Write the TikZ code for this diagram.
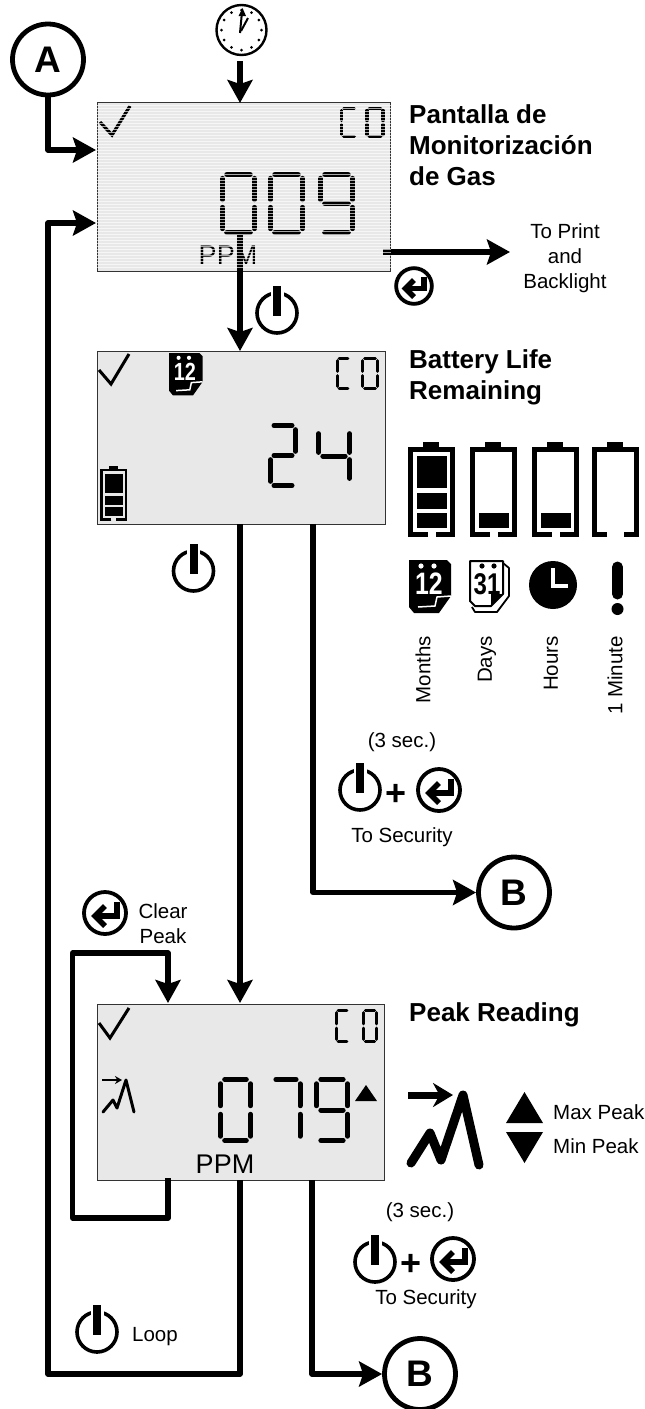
\documentclass[tikz,border=0pt]{standalone}
\usepackage{fontspec}
\setmainfont{Liberation Sans}
\usetikzlibrary{calc,arrows.meta}
\def\sega{(.14,0) -- (.86,0)}
\def\segb{(1,.07) -- (1,.43)}
\def\segc{(1,.57) -- (1,.93)}
\def\segd{(.14,1) -- (.86,1)}
\def\sege{(0,.57) -- (0,.93)}
\def\segf{(0,.07) -- (0,.43)}
\def\segg{(.14,.5) -- (.86,.5)}
\def\lcddigit(#1,#2)(#3,#4)(#5)#6{\begin{scope}[shift={(#1,#2)},x=#3pt,y=-#4pt,line width=#5pt,line cap=round]\foreach \s in {#6}{\draw \csname seg\s\endcsname;}\end{scope}}
\def\battframe(#1,#2)(#3)(#4)(#5)#6{\begin{scope}[shift={(#1,#2)},scale=#3]
	\fill (15,0) rectangle (31,6);
	\draw[line width=#4pt] ({23.5-#5},92.6) -- (2.3,92.6) -- (2.3,7.3) -- (44.7,7.3) -- (44.7,92.6) -- ({23.5+#5},92.6);
	\foreach \ya/\yb in {#6}{\fill (9,\ya) rectangle (39,\yb);}
\end{scope}}
\tikzset{
	lcdscreen/.style={draw=black!80, line width=0.9pt, fill=black!9, inner sep=0pt, outer sep=0pt},
	lcdstripe/.style={white, opacity=0.65, line width=1.1pt},
	flowline/.style={line width=5.3pt, line join=round},
	flowarrow/.style={flowline, -{Stealth[length=23pt,width=25pt,inset=4pt]}},
	flagnode/.style={circle, draw, line width=4.8pt, minimum size=71pt, inner sep=0pt, font=\bfseries\fontsize{37}{37}\selectfont},
	notetext/.style={inner sep=0pt, align=center, font=\fontsize{20.5}{25}\selectfont},
	titletext/.style={inner sep=0pt, anchor=west, align=left, font=\bfseries\fontsize{26}{31}\selectfont},
	ppmtext/.style={inner sep=0pt, font=\fontsize{27}{27}\selectfont},
	powericon/.pic={
		\draw[line width=3.6pt] (0,0) circle (20);
		\fill[white] (-6.5,-24) rectangle (6.5,-15);
		\fill (-4,-27) rectangle (4,3);
	},
	entericon/.pic={
		\draw[line width=3.8pt] (0,0) circle (21);
		\draw[line width=5.5pt] (12,-11) -- (12,3) -- (-9,3);
		\draw[line width=5.5pt] (0,-7) -- (-10,3) -- (0,13);
	},
	monthicon/.pic={
		\fill (0,0) -- (38,0) -- (42,4) -- (42,36) -- (30,53) -- (5,53) -- (0,47) -- cycle;
		\fill[white] (12,6) circle (2.6) (25,6) circle (2.6);
		\draw[white, line width=1.5pt] (42,36) -- (28,37) -- (26,46) -- (9,47);
		\node[white, inner sep=0pt, transform shape, xscale=.8, font=\bfseries\fontsize{31}{31}\selectfont] at (20,24) {12};
	},
}
\begin{document}
\begin{tikzpicture}[x=1pt,y=-1pt]
	\useasboundingbox (0,0) rectangle (645,1409);

	\node[lcdscreen, minimum width=293pt, minimum height=169pt] (lcdgas) at (243.5,187) {};
	\node[lcdscreen, minimum width=288pt, minimum height=173pt] (lcdbat) at (241,437.5) {};
	\node[lcdscreen, minimum width=287pt, minimum height=176pt] (lcdpeak) at (240.5,1092) {};

	\node[flagnode] (flaga) at (48,59.5) {A};
	\node[flagnode] (flagb) at (514,892.5) {B};
	\node[flagnode] (flagc) at (420,1374) {B};
	\node[circle, draw, line width=2.4pt, minimum size=50pt, inner sep=0pt] (clock) at (241.5,30) {};

	\coordinate (gastop) at (240,103);
	\coordinate (gasinner) at (240,232);
	\coordinate (gasleft) at (96,150);
	\coordinate (gasloop) at (96,223);
	\coordinate (gasprint) at (383,252);
	\coordinate (printend) at (510,252);
	\coordinate (battop) at (240,351);
	\coordinate (batdown) at (240,524);
	\coordinate (batsec) at (313,524);
	\coordinate (peaktop) at (240,1003);
	\coordinate (peakdown) at (240,1180);
	\coordinate (peaksec) at (312,1180);
	\coordinate (clearout) at (168,1178);
	\coordinate (clearin) at (168,1003);

	\draw[flowarrow, shorten <=5pt] (clock.south -| gastop) -- (gastop);
	\draw[flowarrow] (flaga.south) |- (gasleft);
	\draw[flowarrow] (peakdown) -- (240,1374) -- (48,1374) |- (gasloop);
	\draw[flowarrow] (gasinner) -- (battop);
	\draw[flowarrow] (gasprint) -- (printend);
	\draw[flowarrow] (batdown) -- (peaktop);
	\draw[flowarrow] (batsec) |- (flagb.west);
	\draw[flowarrow] (clearout) -- (168,1218) -- (72.5,1218) -- (72.5,953) -- (168,953) -- (clearin);
	\draw[flowarrow] (peaksec) |- (flagc.west);

	% clock face
	\foreach \a in {0,30,...,330}{\fill ($(clock.center)+({20*cos(\a)},{20*sin(\a)})$) circle (1.5);}
	\draw[line width=2pt] (240,33) -- (242,12);
	\draw[line width=2pt] (241,31) -- (248,18);
	\fill (238.5,16) -- (242.5,8) -- (246,16) -- cycle;

	% first screen
	\draw[line width=3.2pt] (100,122) -- (112,135) -- (130,106);
	\lcddigit(341.5,108.5)(15,28)(3.2){a,d,e,f}
	\lcddigit(367,108.5)(16,28)(3.2){a,b,c,d,e,f}
	\lcddigit(222.5,174.5)(32,58)(5.5){a,b,c,d,e,f}
	\lcddigit(270.5,174.5)(32,58)(5.5){a,b,c,d,e,f}
	\lcddigit(320.5,174.5)(32,58)(5.5){a,b,c,d,f,g}
	\node[ppmtext] (ppmgas) at (228,255) {PPM};
	\foreach \yy in {105.5,108.5,...,270}{\draw[lcdstripe] (96.5,\yy) -- (390.5,\yy);}

	% second screen
	\draw[line width=3pt] (99,370) -- (111,384) -- (129,354);
	\lcddigit(337.5,358.5)(12,30)(3){a,d,e,f}
	\lcddigit(362.5,358.5)(15,30)(3){a,b,c,d,e,f}
	\lcddigit(270.5,425.5)(25,60)(5){a,b,d,e,g}
	\lcddigit(318.5,430)(31,52)(5){b,c,f,g}
	\pic[scale=.8] (calbat) at (169,353) {monthicon};
	\battframe(100,466)(.58)(2.5)(4){14/46,51/67,71/86}

	% third screen
	\draw[line width=3pt] (99,1023) -- (110,1038) -- (129,1008);
	\lcddigit(336.5,1010.5)(12,31)(3){a,d,e,f}
	\lcddigit(363.5,1010.5)(13,31)(3){a,b,c,d,e,f}
	\lcddigit(220.5,1079.5)(30,61)(5){a,b,c,d,e,f}
	\lcddigit(272,1079.5)(28,61)(5){a,b,c}
	\lcddigit(316.5,1079.5)(31,61)(5){a,b,c,d,f,g}
	\fill (355,1101) -- (377,1101) -- (366,1085) -- cycle;
	\node[ppmtext] (ppmpeak) at (225,1164) {PPM};
	\draw[line width=2.5pt, -{Stealth[length=7pt,width=8pt]}] (102,1080) -- (122,1080);
	\draw[line width=3pt, line cap=round, line join=round] (103,1112) -- (113,1100) -- (117,1108) -- (126,1080) -- (134,1112);

	% titles
	\node[titletext] (titlegas) at (409,145) {Pantalla de\\Monitorización\\de Gas};
	\node[titletext] (titlebat) at (409,377.5) {Battery Life\\Remaining};
	\node[titletext] (titlepeak) at (409,1015) {Peak Reading};
	\node[notetext] (printnote) at (565,258) {To Print\\and\\Backlight};

	% battery legend
	\battframe(408,442)(1)(4.6)(4){14/46,51/67,71/86}
	\battframe(470,442)(1)(4.6)(4){71/86}
	\battframe(532,442)(1)(4.6)(4){71/86}
	\battframe(592,442)(1)(4.6)(8.5){}
	\pic (calmonths) at (409,560) {monthicon};
	\begin{scope}[shift={(469,560)}]
		\draw[line width=1.8pt, line join=round] (34,3) -- (40,8) -- (40,36) -- (28,52) -- (6,52) -- (3,47);
		\draw[line width=2pt, line join=round, fill=white] (1,1) -- (34,1) -- (34,34) -- (22,46) -- (6,46) -- (1,41) -- cycle;
		\fill (34,34) -- (22,46) -- (22,34) -- cycle;
		\fill (13,6) circle (2.6) (25,6) circle (2.6);
		\node[inner sep=0pt, xscale=.8, font=\bfseries\fontsize{30}{30}\selectfont] (caldays) at (18,24) {31};
	\end{scope}
	\fill (553,585) circle (24);
	\draw[white, line width=3.5pt] (553,568) -- (553,586) -- (568,586);
	\draw[line width=11pt, line cap=round] (617.5,567) -- (617.5,594);
	\fill (617.5,609) circle (6);

	\node[notetext, rotate=90, anchor=east] (lblmonths) at (423,636) {Months};
	\node[notetext, rotate=90, anchor=east] (lbldays) at (487,636) {Days};
	\node[notetext, rotate=90, anchor=east] (lblhours) at (551,636) {Hours};
	\node[notetext, rotate=90, anchor=east] (lblminute) at (615,636) {1 Minute};

	% peak legend
	\draw[line width=7pt, -{Stealth[length=20pt,width=24pt]}] (408,1095) -- (453,1095);
	\draw[line width=9pt, line cap=round, line join=round] (411,1163) -- (430,1133) -- (441,1160) -- (463,1095) -- (479,1165);
	\fill (506,1123) -- (543,1123) -- (524.5,1092) -- cycle;
	\fill (506,1132) -- (543,1132) -- (524.5,1163) -- cycle;
	\node[notetext, anchor=west] (lblmax) at (553,1112) {Max Peak};
	\node[notetext, anchor=west] (lblmin) at (553,1146) {Min Peak};

	% buttons
	\pic (pwgas) at (277,313) {powericon};
	\pic[scale=.85] (enprint) at (414,286) {entericon};
	\pic (pwbat) at (193.5,571) {powericon};

	\node[notetext] (secone) at (402,742) {(3 sec.)};
	\pic (pwsecone) at (360,790) {powericon};
	\node[inner sep=0pt, font=\bfseries\fontsize{36}{36}\selectfont] (plusone) at (396,795) {+};
	\pic (ensecone) at (439,790) {entericon};
	\node[notetext] (toone) at (402,837) {To Security};

	\pic (enclear) at (105,913) {entericon};
	\node[notetext] (clearnote) at (163,923.5) {Clear\\Peak};

	\node[notetext] (sectwo) at (420,1212) {(3 sec.)};
	\pic (pwsectwo) at (375,1262) {powericon};
	\node[inner sep=0pt, font=\bfseries\fontsize{36}{36}\selectfont] (plustwo) at (411,1265) {+};
	\pic (ensectwo) at (453,1259) {entericon};
	\node[notetext] (totwo) at (426,1299) {To Security};

	\pic (pwloop) at (97,1332) {powericon};
	\node[notetext] (loopnote) at (155,1337) {Loop};
\end{tikzpicture}
\end{document}
